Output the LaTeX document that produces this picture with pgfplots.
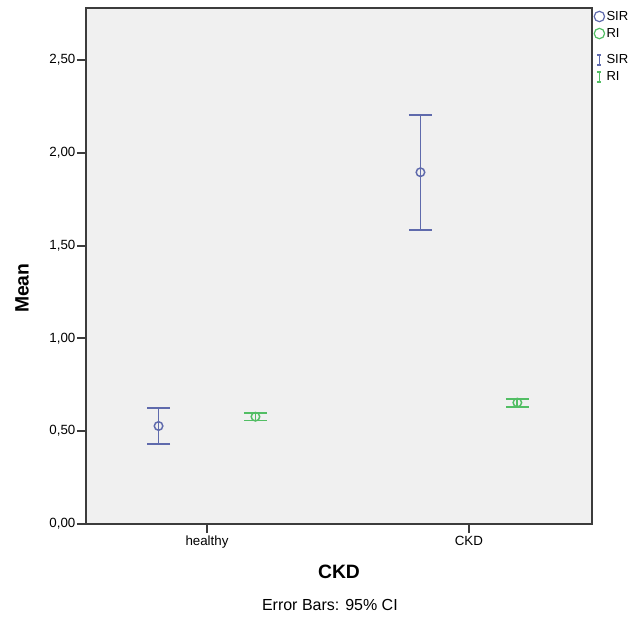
\documentclass[border=0pt]{standalone}
\usepackage{pgfplots}
\pgfplotsset{compat=1.18}
\usepackage{fontspec}
\setmainfont{Liberation Sans}
\definecolor{sircol}{RGB}{95,106,172}
\definecolor{ricol}{RGB}{82,190,100}
\definecolor{bgcol}{RGB}{240,240,240}
\definecolor{framecol}{RGB}{60,60,60}
\begin{document}
\begin{tikzpicture}
\useasboundingbox (-64.5pt,-70.5pt) rectangle (414.75pt,393pt);
\begin{axis}[
  scale only axis, width=379.5pt, height=387pt,
  at={(0,0)}, anchor=south west,
  xmin=0.538, xmax=2.47, ymin=0, ymax=2.78,
  axis background/.style={fill=bgcol},
  axis line style={draw=framecol, line width=1.1pt},
  xtick={1,2}, xticklabels={healthy,CKD},
  ytick={0,0.5,1,1.5,2,2.5},
  tick align=outside, xtick pos=bottom, ytick pos=left,
  major tick length=6.75pt,
  tick style={draw=framecol, line width=1.4pt},
  yticklabel style={/pgf/number format/fixed, /pgf/number format/fixed zerofill, /pgf/number format/precision=2, /pgf/number format/use comma, inner sep=1pt},
  /pgf/number format/assume math mode=true,
  ticklabel style={font=\fontsize{10}{12}\selectfont},
  xticklabel style={inner sep=2pt},
  legend style={at={(rel axis cs:1,1)}, anchor=north west, draw=none, fill=none,
    inner sep=0pt, xshift=1pt, yshift=-1pt, font=\fontsize{9.8}{10}\selectfont,
    row sep=2.5pt, nodes={inner sep=1pt}},
  legend cell align=left,
  clip=false,
]
\addlegendimage{legend image code/.code={\draw[sircol, line width=0.9pt] (3.9pt,0pt) circle (3.9pt);}}
\addlegendentry{SIR}
\addlegendimage{legend image code/.code={\draw[ricol, line width=0.9pt] (3.9pt,0pt) circle (3.9pt);}}
\addlegendentry{RI}
\addlegendimage{legend image code/.code={\path (0,12pt); \draw[sircol, line width=0.9pt] (2.4pt,-3.8pt) -- (5.4pt,-3.8pt) (3.9pt,-3.8pt) -- (3.9pt,3.8pt) (2.4pt,3.8pt) -- (5.4pt,3.8pt);}}
\addlegendentry{SIR}
\addlegendimage{legend image code/.code={\draw[ricol, line width=0.9pt] (2.4pt,-3.8pt) -- (5.4pt,-3.8pt) (3.9pt,-3.8pt) -- (3.9pt,3.8pt) (2.4pt,3.8pt) -- (5.4pt,3.8pt);}}
\addlegendentry{RI}

\addplot[only marks, mark=o, mark size=3.2pt, sircol, line width=1.1pt, forget plot,
  error bars/.cd, y dir=both, y explicit, error mark=|,
  error bar style={line width=1.3pt, sircol},
  error mark options={mark size=8.6pt, line width=1.3pt, sircol}]
  coordinates {
  (0.815,0.528) += (0,0.097) -= (0,0.098)
  (1.815,1.895) += (0,0.310) -= (0,0.313)
  };
\addplot[only marks, mark=o, mark size=3.2pt, ricol, line width=1.1pt, forget plot,
  error bars/.cd, y dir=both, y explicit, error mark=|,
  error bar style={line width=1.3pt, ricol},
  error mark options={mark size=8.6pt, line width=1.3pt, ricol}]
  coordinates {
  (1.185,0.578) += (0,0.022) -= (0,0.021)
  (2.185,0.654) += (0,0.021) -= (0,0.022)
  };
\node[xshift=-48pt, rotate=90, font=\fontsize{14.5}{16}\selectfont\bfseries] at (rel axis cs:0,0.457) {Mean};
\node[font=\fontsize{14.5}{16}\selectfont\bfseries] at (rel axis cs:0.5,0) [yshift=-36pt] {CKD};
\node[font=\fontsize{12}{14}\selectfont] at (rel axis cs:0.482,0) [yshift=-60.75pt] {Error Bars: 95\% CI};
\end{axis}
\end{tikzpicture}
\end{document}
